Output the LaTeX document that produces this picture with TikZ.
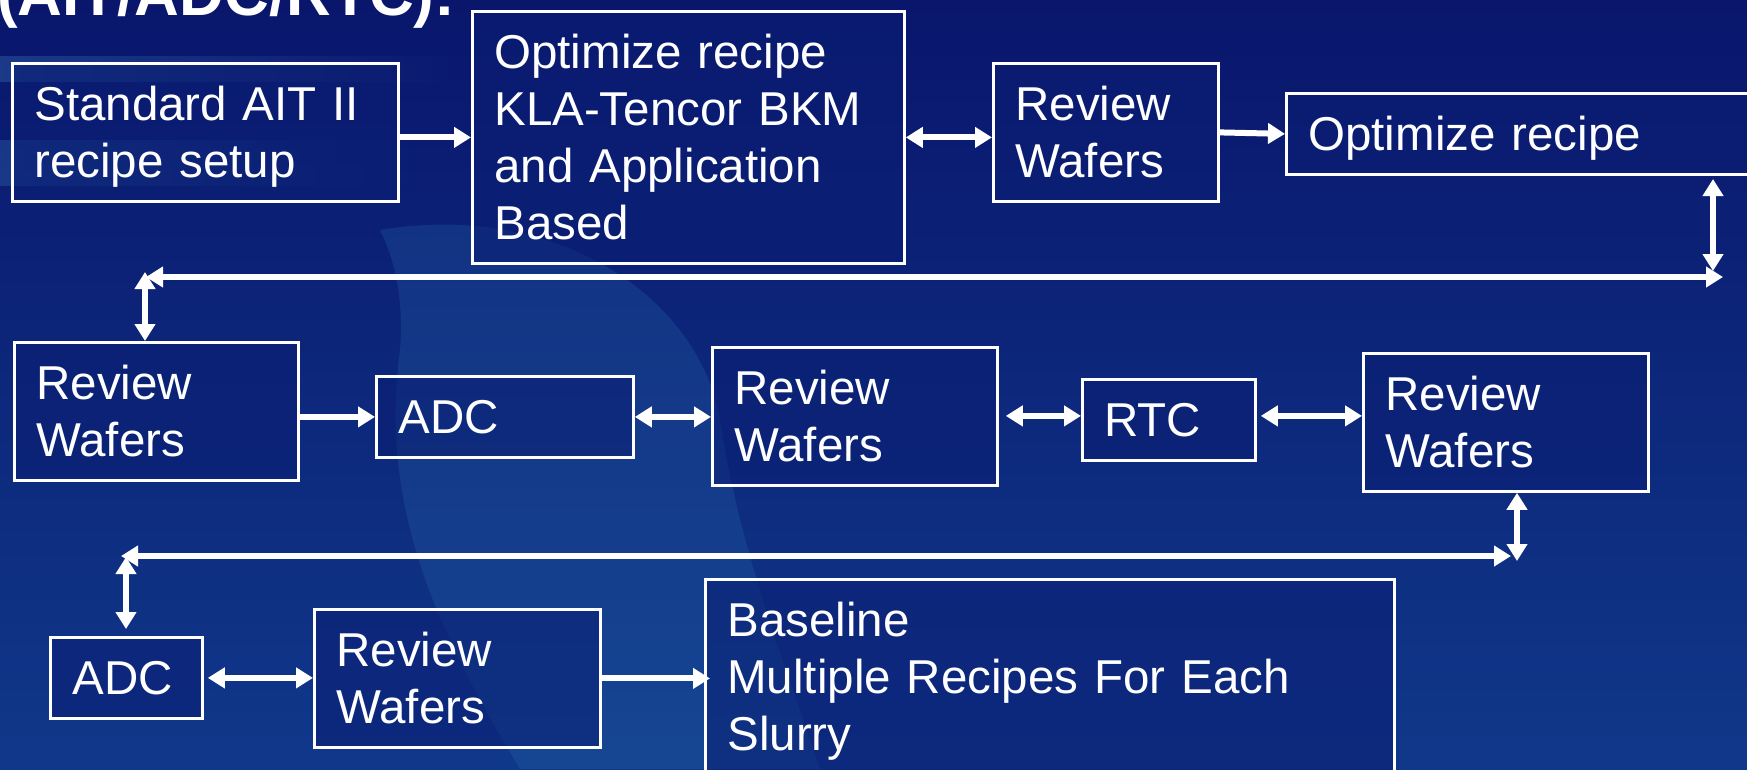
\documentclass[tikz,border=0pt]{standalone}
\usepackage{fontspec}
\setmainfont{Liberation Sans}
\usetikzlibrary{arrows.meta,fadings,calc}
\definecolor{bgtop}{RGB}{9,22,108}
\definecolor{bgbot}{RGB}{16,56,138}
\definecolor{ringc}{RGB}{45,120,180}
\definecolor{bandc}{RGB}{60,120,185}
\definecolor{boxfill}{RGB}{10,30,115}
\newcommand{\ls}{\rule[-12pt]{0pt}{57pt}}
\newcommand{\boxfont}{\fontsize{47.5}{57}\selectfont}
\begin{document}
\begin{tikzpicture}[x=1pt,y=-1pt,
  box/.style={draw=white, line width=2.8pt, fill=boxfill, fill opacity=.55, text opacity=1,
    text=white, inner xsep=22pt, inner ysep=12pt, align=left, anchor=north west, font=\boxfont},
  conn/.style={draw=white, line width=6pt, arrows={-Triangle[length=17pt,width=20pt]}},
  dbl/.style={draw=white, line width=6pt,
    arrows={Triangle[length=17pt,width=20pt]-Triangle[length=17pt,width=20pt]}},
  ttl/.style={anchor=base west, text=white, inner sep=0pt,
    font=\fontsize{62}{70}\selectfont\bfseries}]
\useasboundingbox (0,0) rectangle (1747,769);
\begin{scope}
\clip (0,0) rectangle (1747,769);
% background
\shade[top color=bgtop, bottom color=bgbot] (0,0) rectangle (1747,769);
\fill[ringc, opacity=.22] (380,230) .. controls (560,200) and (700,300) .. (720,420)
  .. controls (740,550) and (780,650) .. (820,769) -- (520,769)
  .. controls (430,620) and (380,500) .. (400,350)
  .. controls (405,290) and (390,250) .. (380,230) -- cycle;
\fill[bandc, opacity=.35, path fading=east] (0,56) rectangle (460,82);
\fill[bandc, opacity=.3, path fading=east] (0,140) rectangle (420,186);
% title
\node[ttl] (title) at (-3,15) {(AIT/ADC/RTC):};
% boxes
\node[box, text width=342pt] (b1) at (11,62) {\ls Standard AIT II\\\ls recipe setup};
\node[box, text width=388pt] (b2) at (471,10) {\ls Optimize recipe\\\ls KLA-Tencor BKM\\\ls and Application\\\ls Based};
\node[box, text width=181pt] (rw1) at (992,62) {\ls Review\\\ls Wafers};
\node[box, text width=471pt] (opt) at (1285,92) {\ls Optimize recipe};
\node[box, text width=240pt] (rw2) at (13,341) {\ls Review\\\ls Wafers};
\node[box, text width=213pt] (adc1) at (375,375) {\ls ADC};
\node[box, text width=241pt] (rw3) at (711,346) {\ls Review\\\ls Wafers};
\node[box, text width=129pt] (rtc) at (1081,378) {\ls RTC};
\node[box, text width=241pt] (rw4) at (1362,352) {\ls Review\\\ls Wafers};
\node[box, text width=108pt] (adc2) at (49,636) {\ls ADC};
\node[box, text width=242pt] (rw5) at (313,608) {\ls Review\\\ls Wafers};
\node[box, text width=645pt] (base) at (704,578) {\ls Baseline\\\ls Multiple Recipes For Each\\\ls Slurry};
% free ends of connectors
\coordinate (l1) at (146,277);
\coordinate (r1) at (1723,277);
\coordinate (v1t) at (1713,179);
\coordinate (v1b) at (1713,271);
\coordinate (v2t) at (145,272);
\coordinate (l2) at (121,556);
\coordinate (r2) at (1511,556);
\coordinate (v3b) at (1517,561);
\coordinate (v4t) at (126,557);
\coordinate (v4b) at (126,629);
% connectors
\draw[conn] (b1.east |- b2.west) -- (b2.west);
\draw[dbl] (b2.east) -- (b2.east -| rw1.west);
\draw[conn] (rw1.east) -- (opt.west);
\draw[dbl] (v1t) -- (v1b);
\draw[dbl] (l1) -- (r1);
\draw[dbl] (v2t) -- (v2t |- rw2.north);
\draw[conn] (rw2.east |- adc1.west) -- (adc1.west);
\draw[dbl] (adc1.east) -- (adc1.east -| rw3.west);
\draw[dbl, shorten <=7pt] ([yshift=4pt]rtc.west -| rw3.east) -- ([yshift=4pt]rtc.west);
\draw[dbl, shorten <=4pt] ([yshift=4pt]rtc.east) -- ([yshift=4pt]rtc.east -| rw4.west);
\draw[dbl] (v3b |- rw4.south) -- (v3b);
\draw[dbl] (l2) -- (r2);
\draw[dbl] (v4t) -- (v4b);
\draw[dbl, shorten <=4pt] (adc2.east) -- (adc2.east -| rw5.west);
\draw[conn, shorten >=-6pt] (rw5.east) -- (rw5.east -| base.west);
\end{scope}
\end{tikzpicture}
\end{document}
